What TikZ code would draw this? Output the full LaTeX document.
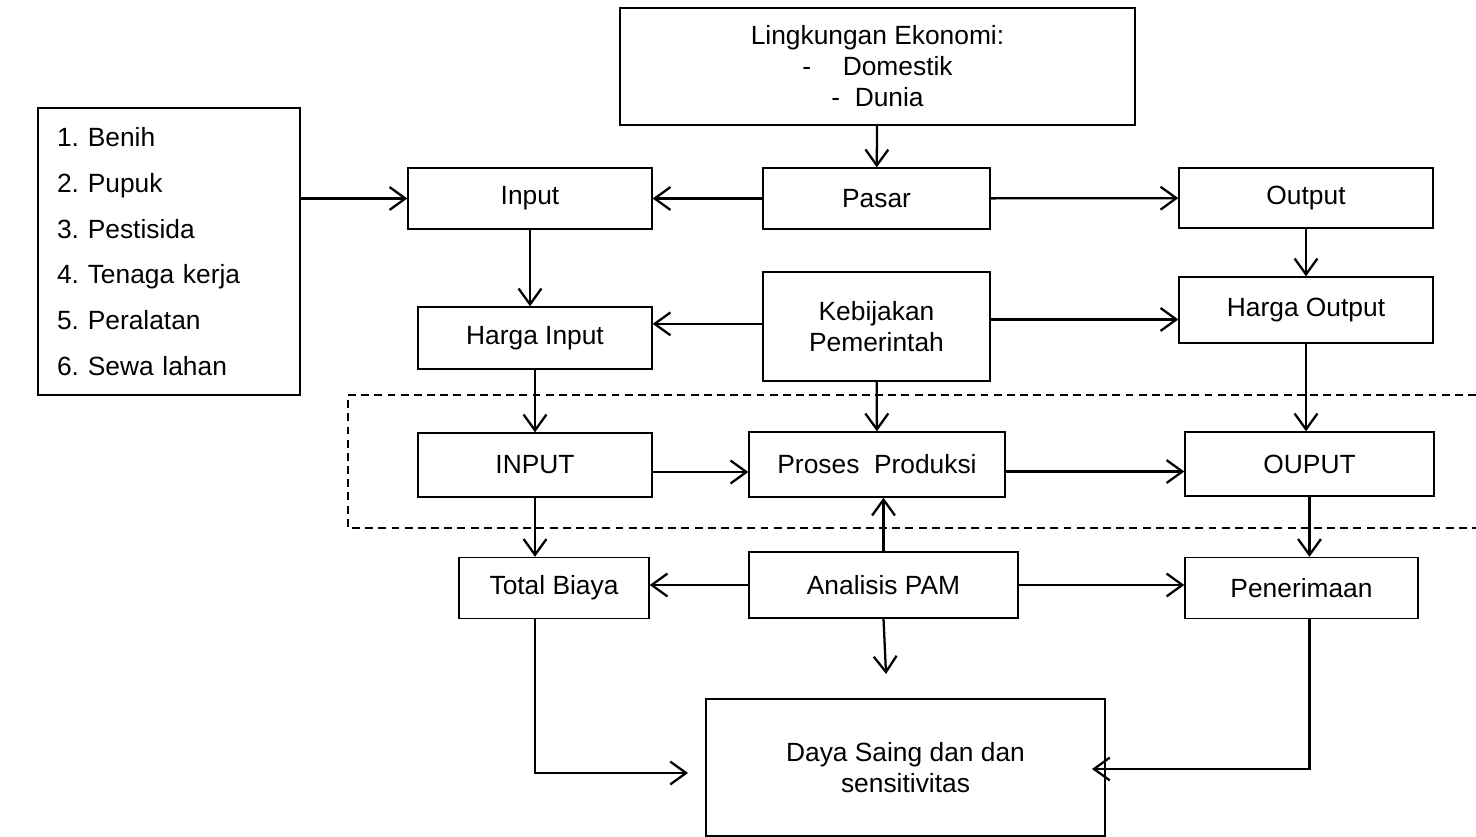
\documentclass[tikz,border=0pt]{standalone}
\usepackage{fontspec}
\setmainfont{Liberation Sans}
\usetikzlibrary{positioning, arrows.meta}
\frenchspacing

\begin{document}
\begin{tikzpicture}[
  x=0.02cm, y=-0.02cm,
  >={Straight Barb[length=9pt,width=13pt]},
  edge/.style={->, line width=1.3pt},
  box/.style={draw, line width=0.8pt, inner sep=0pt, align=center, font=\fontsize{15}{18}\selectfont},
  zone/.style={dashed, dash pattern=on 4.5pt off 3pt, line width=0.8pt}
]
\useasboundingbox (0,0) rectangle (1476,837);

% --- Nodes ---
\node[box, minimum width=10.3cm, minimum height=2.34cm, font=\fontsize{15}{17.6}\selectfont] (Lingk) at (877.5,66.5)
  {Lingkungan Ekonomi:\\ -\hspace{1.2em}Domestik\\ - \ Dunia};

\node[box, align=left, text width=4.48cm, inner xsep=0.38cm, minimum height=5.74cm, font=\fontsize{15}{26}\selectfont] (ListIn) at (169,251.5)
  {1. Benih\\ 2. Pupuk\\ 3. Pestisida\\ 4. Tenaga kerja\\ 5. Peralatan\\ 6. Sewa lahan};

\node[box, minimum width=4.88cm, minimum height=1.22cm] (Input)  at (530,198.5)   {Input};
\node[box, minimum width=4.54cm, minimum height=1.22cm] (Pasar)  at (876.5,198.5) {Pasar};
\node[box, minimum width=5.08cm, minimum height=1.2cm]  (Output) at (1306,198)    {Output};

\node[box, minimum width=4.68cm, minimum height=1.24cm] (HInput)    at (535,338)    {Harga Input};
\node[box, minimum width=4.54cm, minimum height=2.18cm] (Kebijakan) at (876.5,326.5) {Kebijakan\\ Pemerintah};
\node[box, minimum width=5.08cm, minimum height=1.32cm] (HOutput)   at (1306,310)   {Harga Output};

\node[box, minimum width=4.68cm, minimum height=1.28cm] (INPUT)  at (535,465)    {INPUT};
\node[box, minimum width=5.12cm, minimum height=1.3cm]  (Proses) at (877,464.5)  {Proses\ \ Produksi};
\node[box, minimum width=4.98cm, minimum height=1.28cm] (OUPUT)  at (1309.5,464) {OUPUT};

\node[box, minimum width=3.8cm,  minimum height=1.22cm] (TBiaya)     at (554,588)    {Total Biaya};
\node[box, minimum width=5.38cm, minimum height=1.32cm] (Analisis)   at (883.5,585)  {Analisis PAM};
\node[box, minimum width=4.66cm, minimum height=1.22cm] (Penerimaan) at (1301.5,588) {Penerimaan};

\node[box, minimum width=7.98cm, minimum height=2.74cm] (Daya) at (905.5,767.5) {Daya Saing dan dan\\ sensitivitas};

% free ends of the connectors
\coordinate (PamEnd) at (886,674);
\coordinate (DayaL)  at (688,773);
\coordinate (DayaR)  at (1092,769);

% --- Zone (dashed) ---
\draw[zone] (1476,395) -- (348,395) -- (348,528) -- (1476,528);

% --- Edges ---
\draw[edge] (Lingk) -- (Pasar);
\draw[edge] (ListIn.east |- Input) -- (Input);
\draw[edge] (Pasar) -- (Input);
\draw[edge] (Pasar) -- (Output);

\draw[edge] (Input) -- (Input |- HInput.north);
\draw[edge] (Output) -- (HOutput);
\draw[edge] ([yshift=1.5pt]Kebijakan.west) -- ([yshift=1.5pt]Kebijakan.west -| HInput.east);
\draw[edge] ([yshift=4pt]Kebijakan.east) -- ([yshift=4pt]Kebijakan.east -| HOutput.west);

\draw[edge] (HInput) -- (INPUT);
\draw[edge] (Kebijakan) -- (Proses);
\draw[edge] (HOutput.south) -- (HOutput.south |- OUPUT.north);

\draw[edge] ([yshift=-4pt]INPUT.east) -- ([yshift=-4pt]INPUT.east -| Proses.west);
\draw[edge] ([yshift=-4pt]Proses.east) -- ([yshift=-4pt]Proses.east -| OUPUT.west);

\draw[edge] (INPUT) -- (INPUT |- TBiaya.north);
\draw[edge] (Analisis.north) -- (Analisis.north |- Proses.south);
\draw[edge] (OUPUT) -- (OUPUT |- Penerimaan.north);

\draw[edge] (Analisis.west) -- (Analisis.west -| TBiaya.east);
\draw[edge] (Analisis.east) -- (Analisis.east -| Penerimaan.west);
\draw[edge] (Analisis.south) -- (PamEnd);

% bottom return paths
\draw[edge] (INPUT |- TBiaya.south) |- (DayaL);
\draw[edge] (OUPUT |- Penerimaan.south) |- (DayaR);

\end{tikzpicture}
\end{document}
